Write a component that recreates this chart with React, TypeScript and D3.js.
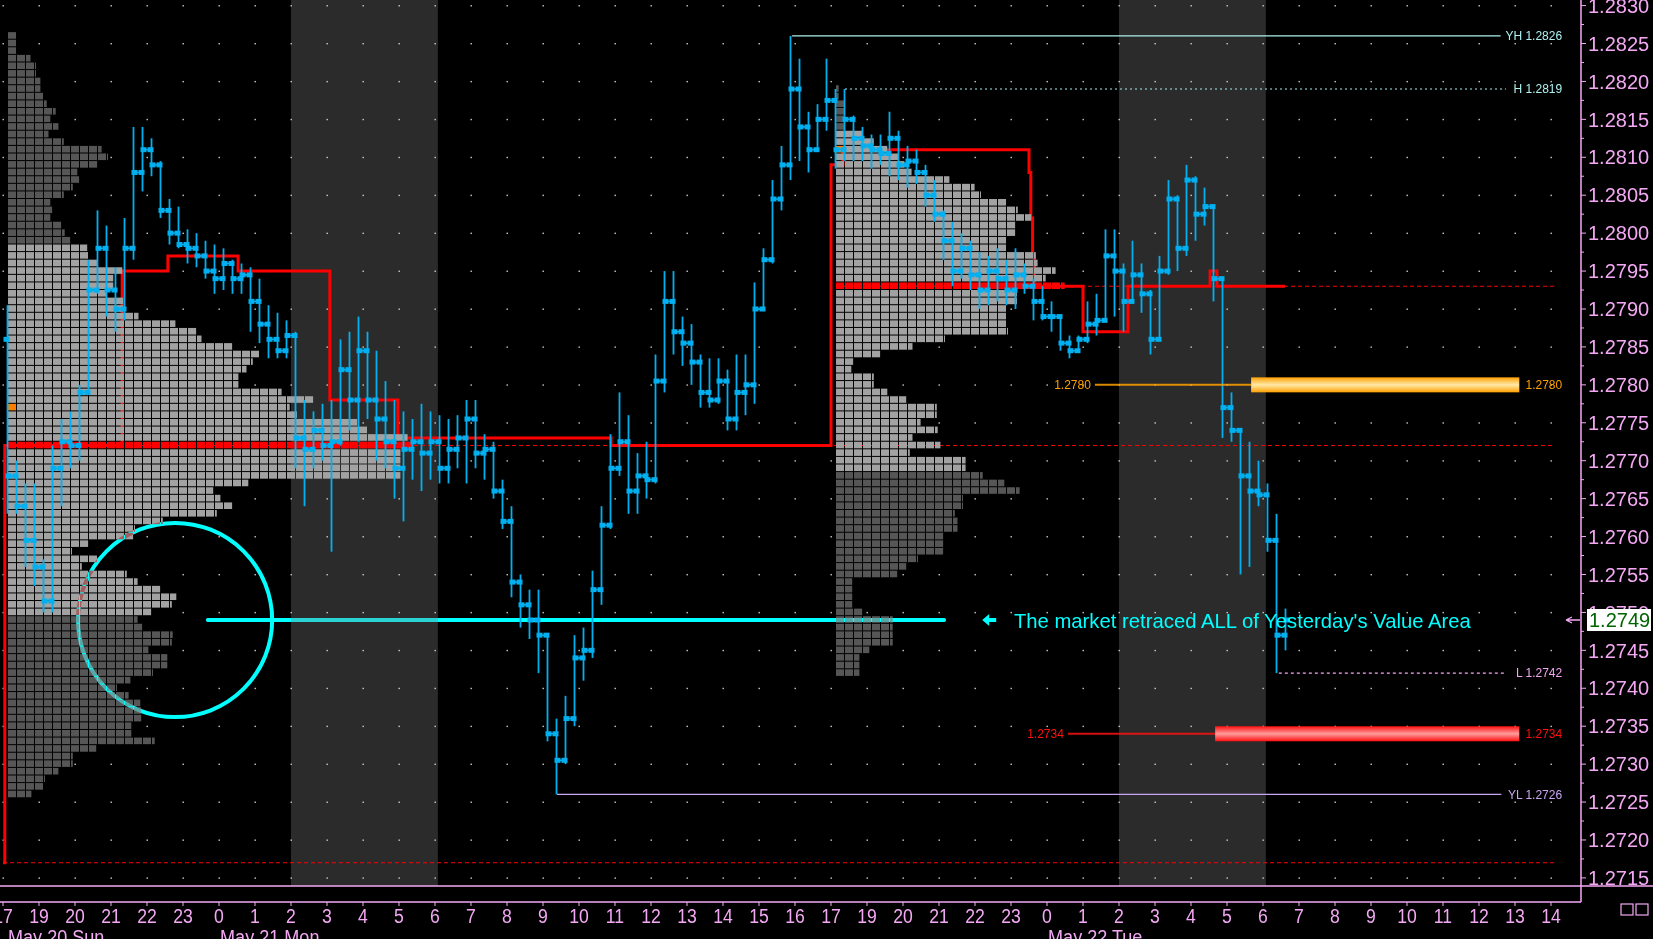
import React, { useEffect, useRef } from 'react';
import * as d3 from 'd3';

const WIDTH = 1653;
const HEIGHT = 939;
const FONT = '"Liberation Sans", Arial, sans-serif';

// bottom axis: one slot per trading hour (the 18:00 hour is skipped)
const hourLabels = [
  '17', '19', '20', '21', '22', '23',
  '0', '1', '2', '3', '4', '5', '6', '7', '8', '9', '10', '11', '12', '13', '14', '15', '16',
  '17', '19', '20', '21', '22', '23',
  '0', '1', '2', '3', '4', '5', '6', '7', '8', '9', '10', '11', '12', '13', '14'
];
const dateLabels: [number, string][] = [[0.14, 'May 20 Sun'], [6.03, 'May 21 Mon'], [29.03, 'May 22 Tue']];
const shadedHours: [number, number][] = [[8, 12.08], [31, 35.08]];

// 15 minute bars from the 17:00 open, [open, high, low, close]
const BAR_HOURS = 0.25;
const bars: [number, number, number, number][] = [
  [1.2786, 1.27905, 1.2763, 1.2768], [1.2768, 1.277, 1.2763, 1.2764], [1.2764, 1.2767, 1.2756, 1.27595],
  [1.27595, 1.2767, 1.27535, 1.2756], [1.2756, 1.2757, 1.275, 1.27515], [1.27515, 1.2772, 1.275, 1.2769],
  [1.2769, 1.27755, 1.2764, 1.27725], [1.27725, 1.27765, 1.2769, 1.2772], [1.2772, 1.278, 1.277, 1.2779],
  [1.2779, 1.27965, 1.2779, 1.27925], [1.27925, 1.2803, 1.2792, 1.2798], [1.2798, 1.2801, 1.2789, 1.27925],
  [1.27925, 1.27955, 1.2787, 1.279], [1.279, 1.2802, 1.27885, 1.2798], [1.2798, 1.2814, 1.27965, 1.2808],
  [1.2808, 1.2814, 1.28055, 1.2811], [1.2811, 1.28125, 1.28075, 1.2809], [1.2809, 1.28095, 1.2802, 1.2803],
  [1.2803, 1.28045, 1.27985, 1.28], [1.28, 1.28035, 1.2798, 1.27985], [1.27985, 1.28005, 1.2796, 1.2798],
  [1.2798, 1.28, 1.27955, 1.2797], [1.2797, 1.2799, 1.2794, 1.2795], [1.2795, 1.27985, 1.2792, 1.2794],
  [1.2794, 1.2798, 1.27925, 1.2796], [1.2796, 1.27965, 1.2792, 1.2794], [1.2794, 1.2796, 1.2792, 1.27945],
  [1.27945, 1.27955, 1.2787, 1.2791], [1.2791, 1.2794, 1.27855, 1.2788], [1.2788, 1.27905, 1.27835, 1.2786],
  [1.2786, 1.27895, 1.27835, 1.27845], [1.27845, 1.27885, 1.27835, 1.27865], [1.27865, 1.2787, 1.2769, 1.2773],
  [1.2773, 1.2778, 1.2764, 1.27715], [1.27715, 1.27765, 1.2769, 1.2774], [1.2774, 1.27775, 1.277, 1.2772],
  [1.2772, 1.2778, 1.2758, 1.27725], [1.27725, 1.2786, 1.2772, 1.2782], [1.2782, 1.2787, 1.2774, 1.2778],
  [1.2778, 1.2789, 1.27725, 1.27845], [1.27845, 1.2787, 1.27755, 1.2778], [1.2778, 1.27845, 1.277, 1.27755],
  [1.27755, 1.27805, 1.2769, 1.27725], [1.27725, 1.2778, 1.2765, 1.2769], [1.2769, 1.27765, 1.2762, 1.27715],
  [1.27715, 1.27755, 1.27675, 1.27725], [1.27725, 1.27775, 1.2766, 1.2771], [1.2771, 1.27765, 1.27675, 1.27725],
  [1.27725, 1.2776, 1.2767, 1.2769], [1.2769, 1.27755, 1.2767, 1.27715], [1.27715, 1.2776, 1.2769, 1.2773],
  [1.2773, 1.2778, 1.2767, 1.27755], [1.27755, 1.2778, 1.2769, 1.2771], [1.2771, 1.27735, 1.27675, 1.27715],
  [1.27715, 1.27725, 1.2765, 1.2766], [1.2766, 1.27675, 1.2761, 1.2762], [1.2762, 1.2764, 1.2752, 1.2754],
  [1.2754, 1.2755, 1.2748, 1.2751], [1.2751, 1.2753, 1.27465, 1.2749], [1.2749, 1.2753, 1.2742, 1.2747],
  [1.2747, 1.2747, 1.2733, 1.2734], [1.2734, 1.2736, 1.2726, 1.27305], [1.27305, 1.2739, 1.273, 1.2736],
  [1.2736, 1.2747, 1.2735, 1.2744], [1.2744, 1.2748, 1.2741, 1.2745], [1.2745, 1.27555, 1.2744, 1.2753],
  [1.2753, 1.2764, 1.2751, 1.27615], [1.27615, 1.27735, 1.2761, 1.2769], [1.2769, 1.2779, 1.2768, 1.27725],
  [1.27725, 1.2776, 1.2763, 1.2766], [1.2766, 1.2771, 1.2763, 1.2768], [1.2768, 1.27725, 1.2765, 1.27675],
  [1.27675, 1.2784, 1.2767, 1.27805], [1.27805, 1.2795, 1.2779, 1.2791], [1.2791, 1.2795, 1.2784, 1.2787],
  [1.2787, 1.2789, 1.27825, 1.27855], [1.27855, 1.2788, 1.278, 1.2783], [1.2783, 1.2784, 1.2777, 1.2779],
  [1.2779, 1.27835, 1.2777, 1.2778], [1.2778, 1.27835, 1.27775, 1.27805], [1.27805, 1.2782, 1.2774, 1.27755],
  [1.27755, 1.2784, 1.2774, 1.2779], [1.2779, 1.2784, 1.2776, 1.278], [1.278, 1.27935, 1.27775, 1.279],
  [1.279, 1.2798, 1.279, 1.27965], [1.27965, 1.2807, 1.2796, 1.28045], [1.28045, 1.28115, 1.2803, 1.2809],
  [1.2809, 1.2826, 1.2807, 1.2819], [1.2819, 1.2823, 1.28095, 1.2814], [1.2814, 1.2816, 1.2808, 1.2811],
  [1.2811, 1.2817, 1.2811, 1.2815], [1.2815, 1.2823, 1.28135, 1.28175], [1.28175, 1.2819, 1.28085, 1.2811],
  [1.2811, 1.2819, 1.28095, 1.2815], [1.2815, 1.28155, 1.28095, 1.28125], [1.28125, 1.2814, 1.28095, 1.28115],
  [1.28115, 1.2813, 1.28085, 1.2811], [1.2811, 1.2813, 1.2809, 1.28105], [1.28105, 1.2816, 1.28075, 1.28125],
  [1.28125, 1.28135, 1.2807, 1.2809], [1.2809, 1.28115, 1.2806, 1.28095], [1.28095, 1.2811, 1.28065, 1.2808],
  [1.2808, 1.2809, 1.28035, 1.2805], [1.2805, 1.2807, 1.28015, 1.28025], [1.28025, 1.2803, 1.27965, 1.2799],
  [1.2799, 1.28015, 1.2793, 1.2795], [1.2795, 1.28, 1.2794, 1.2798], [1.2798, 1.2799, 1.27925, 1.27945],
  [1.27945, 1.27975, 1.279, 1.27925], [1.27925, 1.2797, 1.27905, 1.2795], [1.2795, 1.2798, 1.2791, 1.2794],
  [1.2794, 1.27965, 1.27905, 1.27925], [1.27925, 1.2798, 1.279, 1.27945], [1.27945, 1.2796, 1.2792, 1.2793],
  [1.2793, 1.2794, 1.27885, 1.2791], [1.2791, 1.2793, 1.27885, 1.2789], [1.2789, 1.2791, 1.2787, 1.2789],
  [1.2789, 1.2789, 1.27845, 1.27855], [1.27855, 1.27865, 1.27835, 1.27845], [1.27845, 1.27865, 1.27845, 1.2786],
  [1.2786, 1.2791, 1.27855, 1.2788], [1.2788, 1.2792, 1.27865, 1.27885], [1.27885, 1.28005, 1.27885, 1.2797],
  [1.2797, 1.28005, 1.2789, 1.2795], [1.2795, 1.2796, 1.2787, 1.2791], [1.2791, 1.2799, 1.2791, 1.27945],
  [1.27945, 1.2796, 1.27895, 1.2792], [1.2792, 1.27925, 1.2784, 1.2786], [1.2786, 1.2797, 1.2786, 1.2795],
  [1.2795, 1.2807, 1.27945, 1.28045], [1.28045, 1.2805, 1.2795, 1.2798], [1.2798, 1.2809, 1.2797, 1.2807],
  [1.2807, 1.28075, 1.2799, 1.28025], [1.28025, 1.2806, 1.2801, 1.28035], [1.28035, 1.28035, 1.2791, 1.2794],
  [1.2794, 1.2794, 1.2773, 1.2777], [1.2777, 1.2779, 1.27725, 1.2774], [1.2774, 1.2774, 1.2755, 1.2768],
  [1.2768, 1.27725, 1.2756, 1.2766], [1.2766, 1.277, 1.2764, 1.27655], [1.27655, 1.2767, 1.2758, 1.27595],
  [1.27595, 1.2763, 1.2742, 1.2747], [1.2747, 1.27505, 1.2745, 1.2749]
];

// market profile of the May 21 session: TPO counts per 1 pip row, from the top row down
const profile1Start = 0;
const profile1Top = 1.2826;
const profile1Counts = [
  1.0, 1.0, 1.0, 2.5, 3.1, 3.1, 3.6, 3.6, 4.0, 4.3, 5.3, 4.7, 5.6, 4.5, 6.2, 10.4, 11.1, 9.9, 7.7, 7.9,
  7.2, 6.2, 4.7, 4.9, 4.7, 5.9, 6.3, 6.9,
  8.8, 9.0, 9.9, 12.7, 11.7, 11.7, 11.0, 12.8, 12.8, 14.5, 18.6, 20.9, 21.5, 24.9, 28.0, 27.2, 26.5, 25.6,
  25.6, 30.4, 33.9, 31.3, 32.1, 38.8, 40.0, 44.4, 45.0, 43.6, 43.6, 43.6, 43.6, 26.7, 22.8, 23.6, 24.9, 23.2,
  17.2, 14.1, 13.9, 8.9, 7.1, 10.0, 8.2, 13.2, 14.4, 16.9, 18.7, 18.2, 15.9,
  14.4, 14.9, 18.3, 18.2, 15.6, 17.7, 17.7, 16.1, 13.6, 12.1, 13.4, 14.7, 14.8, 14.8, 13.7, 13.7, 16.3, 9.8,
  7.2, 7.2, 5.6, 4.1, 4.0, 2.6
];
const profile1ValueArea = [1.2798, 1.275];
const profile1Poc = 1.2772;
const profile1Open = 1.2777;

// market profile of the May 22 session
const profile2Start = 23;
const profile2Top = 1.2819;
const profile2Counts = [
  0.3, 0.3, 1, 1, 1, 1,
  2.9, 4.2, 5.7, 7.0, 7.6, 8.4, 12.6, 15.4, 16.1, 19.0, 20.2, 21.7, 19.9, 19.9, 19.0, 19.0, 22.2, 22.4, 24.4,
  23.3, 25.4, 20.1, 20.1, 19.0, 19.0, 19.0, 19.1, 12.1, 8.5, 4.9, 1.9, 1.7, 4.2, 4.2, 5.7, 7.8, 11.2, 11.2,
  9.4, 11.3, 8.5, 11.6, 8.2, 14.4, 14.4,
  16.3, 18.7, 20.4, 14.1, 14.1, 13.2, 13.5, 13.5, 11.9, 11.9, 11.9, 9.1, 7.8, 6.8, 1.8, 1.8, 1.8, 1.8, 2.9,
  6.3, 6.3, 6.3, 6.3, 3.7, 2.6, 2.6, 2.6
];
const profile2ValueArea = [1.2813, 1.2769];
const profile2Poc = 1.2793;
const profile2Open = 1.2811;

// developing POC, [hour slot, price], stepped
const pocSteps: [number, number][] = [
  [0, 1.2717], [0.05, 1.2772], [3.31, 1.2795], [4.58, 1.2797], [6.53, 1.2795], [9.08, 1.2778],
  [10.97, 1.2773], [16.89, 1.2772], [23.0, 1.2809], [23.33, 1.2811], [28.5, 1.2808], [28.55, 1.2802],
  [28.6, 1.2797], [28.65, 1.2793], [30.0, 1.2787], [31.25, 1.2793], [33.53, 1.2795], [33.72, 1.2793],
  [35.61, 1.2793]
];
const pocRefPrices = [1.2717, 1.2772, 1.2793];
const pocRefStarts = [0, 0.14, 23.14];
const REF_END = 43.1;

const levelLabels = ['YH 1.2826', 'H 1.2819', 'L 1.2742', 'YL 1.2726'];
const levelPrices = [1.2826, 1.2819, 1.2742, 1.2726];
const levelStarts = [21.92, 23.39, 35.44, 15.39];
const levelEnds = [41.6, 41.75, 41.75, 41.62];
const levelColors = ['#aef0f0', '#aef0f0', '#f2a6f2', '#c9a6f2'];
const levelDashes = [null, '2,3', '3,3', null];
const LABEL_END = 43.31;

const zonePrices = [1.278, 1.2734];
const zoneLineStarts = [30.33, 29.58];
const zoneBarStarts = [34.67, 33.67];
const ZONE_END = 42.12;
const zoneColors = ['#ffa000', '#ff1010'];

const priceTicks = d3.range(0, 24).map(k => 1.2715 + k * 0.0005);
const lastPrice = 1.2749;
const noteText = "The market retraced ALL of Yesterday's Value Area";

export default function App() {
  const svgRef = useRef<SVGSVGElement>(null);

  useEffect(() => {
    document.body.style.margin = '0';
    document.body.style.background = '#000';
    if (!svgRef.current) return;
    const svg = d3.select(svgRef.current);
    svg.selectAll('*').remove();

    const x = d3.scaleLinear().domain([0, 43]).range([3, 1551]);
    const y = d3.scaleLinear().domain([1.2715, 1.2825]).range([877.9, 43.5]);
    const rowH = y(1.28) - y(1.2801);
    const cellW = x(BAR_HOURS) - x(0);
    const pink = '#f4a8f4';
    const barBlue = '#00b0f0';

    const defs = svg.append('defs');
    zoneColors.forEach((c, i) => {
      const g = defs.append('linearGradient').attr('id', `zone${i}`).attr('x1', 0).attr('x2', 0).attr('y1', 0).attr('y2', 1);
      const mid = i === 0 ? '#ffe9a8' : '#ff9c9c';
      g.append('stop').attr('offset', '0%').attr('stop-color', c);
      g.append('stop').attr('offset', '50%').attr('stop-color', mid);
      g.append('stop').attr('offset', '100%').attr('stop-color', c);
    });

    svg.append('rect').attr('width', WIDTH).attr('height', HEIGHT).attr('fill', '#000');

    // shaded session hours
    svg.append('g').selectAll('rect').data(shadedHours).enter().append('rect')
      .attr('x', d => x(d[0])).attr('width', d => x(d[1]) - x(d[0]))
      .attr('y', 0).attr('height', 886).attr('fill', '#2b2b2b');

    // dotted grid
    const dots = svg.append('g').attr('fill', '#d0d0d0');
    hourLabels.forEach((_, i) => {
      priceTicks.forEach(p => {
        dots.append('rect').attr('x', x(i) - 0.5).attr('y', y(p) - 0.5).attr('width', 1.4).attr('height', 1.4);
      });
    });

    // POC reference lines
    pocRefPrices.forEach((p, i) => {
      svg.append('line').attr('x1', x(pocRefStarts[i])).attr('x2', x(REF_END))
        .attr('y1', y(p)).attr('y2', y(p)).attr('stroke', '#ff0000').attr('stroke-width', 1)
        .attr('stroke-dasharray', '4,3');
    });

    // developing POC
    const stepLine = d3.line<[number, number]>().x(d => x(d[0])).y(d => y(d[1])).curve(d3.curveStepAfter);
    svg.append('path').attr('d', stepLine(pocSteps)).attr('fill', 'none')
      .attr('stroke', '#ff0000').attr('stroke-width', 3);

    // profiles
    const drawProfile = (start: number, top: number, counts: number[], va: number[], poc: number, open: number) => {
      const g = svg.append('g');
      const left = x(start) + 5;
      counts.forEach((n, r) => {
        const pip = Math.round(top * 10000) - r;
        const price = pip / 10000;
        const rowTop = y(price) - rowH / 2;
        let fill = '#565656';
        if (pip <= Math.round(va[0] * 10000) && pip >= Math.round(va[1] * 10000)) fill = '#a2a2a2';
        if (pip === Math.round(poc * 10000)) fill = '#ff0000';
        for (let j = 0; j < Math.ceil(n); j++) {
          const frac = Math.min(1, n - j);
          const w = Math.max(1, frac * cellW - (frac === 1 ? 1 : 0));
          g.append('rect').attr('x', left + j * cellW).attr('y', rowTop)
            .attr('width', w).attr('height', rowH - 1)
            .attr('fill', j === 0 && pip === Math.round(open * 10000) ? '#ff8000' : fill);
        }
      });
    };
    drawProfile(profile1Start, profile1Top, profile1Counts, profile1ValueArea, profile1Poc, profile1Open);
    drawProfile(profile2Start, profile2Top, profile2Counts, profile2ValueArea, profile2Poc, profile2Open);

    // circle + value area line, drawn as an inverting overlay
    const note = svg.append('g').style('mix-blend-mode', 'difference');
    note.append('circle').attr('cx', x(4.78)).attr('cy', y(lastPrice))
      .attr('r', y(lastPrice) - y(lastPrice + 0.00128))
      .attr('fill', 'none').attr('stroke', '#00ffff').attr('stroke-width', 4);
    note.append('line').attr('x1', x(5.69)).attr('x2', x(26.14))
      .attr('y1', y(lastPrice)).attr('y2', y(lastPrice))
      .attr('stroke', '#00ffff').attr('stroke-width', 4).attr('stroke-linecap', 'round');

    // price bars: wick, open/close blocks and a link to the next bar
    const candles = svg.append('g');
    bars.forEach((b, k) => {
      const cx = x(k * BAR_HOURS + BAR_HOURS / 2);
      const [o, h, l, c] = b;
      candles.append('line').attr('x1', cx).attr('x2', cx).attr('y1', y(h)).attr('y2', y(l))
        .attr('stroke', barBlue).attr('stroke-width', 1.8);
      candles.append('rect').attr('x', cx - 4).attr('y', y(o) - 2.5).attr('width', 6).attr('height', 5)
        .attr('fill', barBlue);
      candles.append('rect').attr('x', cx - 2).attr('y', y(c) - 2.5).attr('width', 6).attr('height', 5)
        .attr('fill', barBlue);
      if (k < bars.length - 1) {
        const nx = x((k + 1) * BAR_HOURS + BAR_HOURS / 2);
        candles.append('line').attr('x1', cx).attr('x2', nx).attr('y1', y(c)).attr('y2', y(bars[k + 1][0]))
          .attr('stroke', barBlue).attr('stroke-width', 1.6);
      }
    });

    // session high / low levels
    levelPrices.forEach((p, i) => {
      const ln = svg.append('line').attr('x1', x(levelStarts[i])).attr('x2', x(levelEnds[i]))
        .attr('y1', y(p)).attr('y2', y(p)).attr('stroke', levelColors[i]).attr('stroke-width', 1.2);
      if (levelDashes[i]) ln.attr('stroke-dasharray', levelDashes[i] as string);
      svg.append('text').attr('x', x(LABEL_END)).attr('y', y(p)).attr('dy', '0.36em')
        .attr('text-anchor', 'end').attr('font-family', FONT).attr('font-size', 12)
        .attr('fill', levelColors[i]).text(levelLabels[i]);
    });

    // support / resistance zones
    zonePrices.forEach((p, i) => {
      const label = p.toFixed(4);
      svg.append('line').attr('x1', x(zoneLineStarts[i])).attr('x2', x(zoneBarStarts[i]))
        .attr('y1', y(p)).attr('y2', y(p)).attr('stroke', zoneColors[i]).attr('stroke-width', 2).attr('opacity', 0.85);
      svg.append('rect').attr('x', x(zoneBarStarts[i])).attr('width', x(ZONE_END) - x(zoneBarStarts[i]))
        .attr('y', y(p) - 7.5).attr('height', 15).attr('fill', `url(#zone${i})`);
      svg.append('text').attr('x', x(zoneLineStarts[i]) - 4).attr('y', y(p)).attr('dy', '0.36em')
        .attr('text-anchor', 'end').attr('font-family', FONT).attr('font-size', 12)
        .attr('fill', zoneColors[i]).text(label);
      svg.append('text').attr('x', x(LABEL_END)).attr('y', y(p)).attr('dy', '0.36em')
        .attr('text-anchor', 'end').attr('font-family', FONT).attr('font-size', 12)
        .attr('fill', zoneColors[i]).text(label);
    });

    // annotation
    const ax = x(27.2);
    const ay = y(lastPrice);
    svg.append('path')
      .attr('d', `M${ax},${ay} l7,-6 v4 h7 v4 h-7 v4 z`)
      .attr('fill', '#00ffff');
    svg.append('text').attr('x', x(28.08)).attr('y', ay).attr('dy', '0.36em')
      .attr('font-family', FONT).attr('font-size', 21).attr('fill', '#00ffff')
      .attr('textLength', 457).attr('lengthAdjust', 'spacingAndGlyphs').text(noteText);

    // right price axis
    const axisX = 1581;
    svg.append('line').attr('x1', axisX).attr('x2', axisX).attr('y1', 0).attr('y2', 902)
      .attr('stroke', pink).attr('stroke-width', 1.5);
    d3.range(0, 47).forEach(k => {
      const p = 1.2715 + k * 0.00025;
      const major = k % 2 === 0;
      svg.append('line').attr('x1', axisX).attr('x2', axisX + (major ? 5 : 3))
        .attr('y1', y(p)).attr('y2', y(p)).attr('stroke', pink);
    });
    priceTicks.forEach(p => {
      svg.append('text').attr('x', 1588).attr('y', y(p)).attr('dy', '0.36em')
        .attr('font-family', FONT).attr('font-size', 20).attr('fill', pink).text(p.toFixed(4));
    });
    svg.append('rect').attr('x', 1587).attr('y', y(lastPrice) - 11).attr('width', 64).attr('height', 22)
      .attr('fill', '#ffffff');
    svg.append('text').attr('x', 1589).attr('y', y(lastPrice)).attr('dy', '0.36em')
      .attr('font-family', FONT).attr('font-size', 20).attr('fill', '#006400').text(lastPrice.toFixed(4));
    svg.append('path')
      .attr('d', `M${axisX - 1},${y(lastPrice)} h-14 m0,0 l6,-3 m-6,3 l6,3`)
      .attr('stroke', pink).attr('stroke-width', 1.3).attr('fill', 'none');

    // bottom time axis
    svg.append('line').attr('x1', 0).attr('x2', WIDTH).attr('y1', 886).attr('y2', 886)
      .attr('stroke', pink).attr('stroke-width', 1.3);
    svg.append('line').attr('x1', 0).attr('x2', axisX).attr('y1', 902).attr('y2', 902)
      .attr('stroke', pink).attr('stroke-width', 1.3);
    hourLabels.forEach((h, i) => {
      svg.append('line').attr('x1', x(i)).attr('x2', x(i)).attr('y1', 902).attr('y2', 906)
        .attr('stroke', pink);
      svg.append('text').attr('transform', `translate(${x(i)},923) scale(0.84,1)`)
        .attr('text-anchor', 'middle').attr('font-family', FONT).attr('font-size', 21)
        .attr('fill', pink).text(h);
    });
    dateLabels.forEach(([i, t]) => {
      svg.append('text').attr('transform', `translate(${x(i)},944) scale(0.86,1)`)
        .attr('font-family', FONT).attr('font-size', 21).attr('fill', pink).text(t);
    });
    [1621, 1636].forEach(bx => {
      svg.append('rect').attr('x', bx).attr('y', 904).attr('width', 12).attr('height', 11)
        .attr('fill', 'none').attr('stroke', pink).attr('stroke-width', 1.2);
    });
  }, []);

  return (
    <svg
      ref={svgRef}
      width={WIDTH}
      height={HEIGHT}
      style={{ display: 'block', position: 'absolute', left: 0, top: 0, background: '#000' }}
    />
  );
}
